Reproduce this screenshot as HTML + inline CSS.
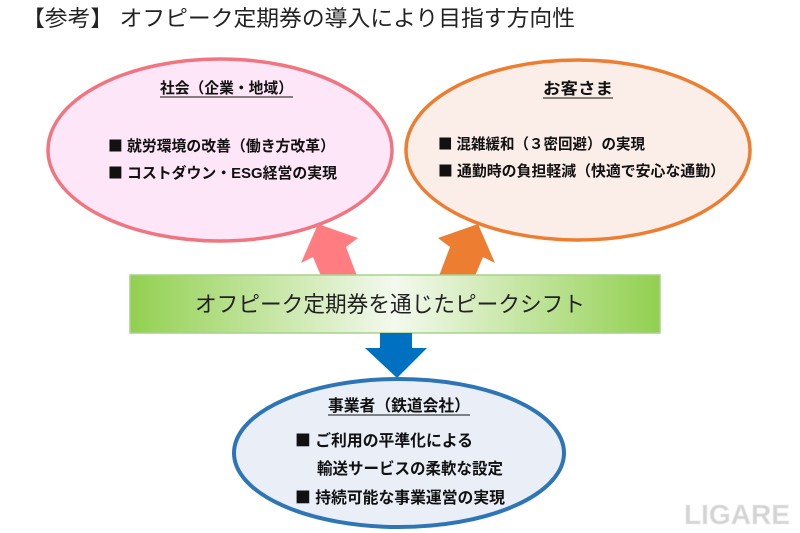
<!DOCTYPE html>
<html>
<head>
<meta charset="utf-8">
<style>
  html,body{margin:0;padding:0;background:#fff;}
  body{width:800px;height:533px;overflow:hidden;}
  svg{display:block;}
  .t{font-family:"Liberation Sans","Noto Sans CJK JP",sans-serif;}
  .j{font-family:"Noto Sans CJK JP",sans-serif;}
</style>
</head>
<body>
<svg width="800" height="533" viewBox="0 0 800 533" xmlns="http://www.w3.org/2000/svg">
  <defs>
    <linearGradient id="g" x1="0" y1="0" x2="1" y2="0">
      <stop offset="0" stop-color="#92d050"/>
      <stop offset="0.5" stop-color="#f3f9ee"/>
      <stop offset="1" stop-color="#92d050"/>
    </linearGradient>
  </defs>

  <!-- Title -->
  <text class="t" x="22" y="26" font-size="22" fill="#222" textLength="553" lengthAdjust="spacingAndGlyphs">【参考】 オフピーク定期券の導入により目指す方向性</text>

  <!-- Left ellipse -->
  <ellipse cx="220" cy="150" rx="172" ry="91" fill="#fde6f7" stroke="#f07580" stroke-width="3.5"/>
  <!-- Right ellipse -->
  <ellipse cx="578" cy="150" rx="172" ry="90" fill="#fbeee8" stroke="#ed7d31" stroke-width="3.5"/>

  <!-- Arrows -->
  <polygon points="318,224 358,238 346,247 357,276 321,276 313,257 301,263" fill="#ff7c80"/>
  <polygon points="478,224 438,238 450,247 439,276 475,276 483,257 495,263" fill="#ed7d31"/>

  <!-- Green box -->
  <rect x="130" y="275" width="530" height="58" fill="url(#g)" stroke="#a9d18e" stroke-width="1.5"/>
  <text class="t" x="195" y="312" font-size="22" fill="#222" textLength="390" lengthAdjust="spacingAndGlyphs">オフピーク定期券を通じたピークシフト</text>

  <!-- Blue arrow -->
  <polygon points="380,333 412,333 412,348 427,348 397,378 365,348 380,348" fill="#0070c0"/>

  <!-- Bottom ellipse -->
  <ellipse cx="399" cy="453" rx="165" ry="74" fill="#e9eef7" stroke="#2e75b6" stroke-width="4"/>

  <!-- Left texts -->
  <text class="t" x="160" y="93" font-size="15" font-weight="700" fill="#111" textLength="133" lengthAdjust="spacingAndGlyphs">社会（企業・地域）</text>
  <line x1="160" y1="97" x2="293" y2="97" stroke="#111" stroke-width="1"/>
  <text class="t" x="108" y="151" font-size="15" font-weight="700" fill="#111" textLength="227" lengthAdjust="spacingAndGlyphs"><tspan class="j">■</tspan> 就労環境の改善（働き方改革）</text>
  <text class="t" x="108" y="178" font-size="15" font-weight="700" fill="#111" textLength="229" lengthAdjust="spacingAndGlyphs"><tspan class="j">■</tspan> コストダウン・ESG経営の実現</text>

  <!-- Right texts -->
  <text class="t" x="543" y="94" font-size="16" font-weight="700" fill="#111" textLength="70" lengthAdjust="spacingAndGlyphs">お客さま</text>
  <line x1="543" y1="98" x2="613" y2="98" stroke="#111" stroke-width="1"/>
  <text class="t" x="438" y="149" font-size="15" font-weight="700" fill="#111" textLength="207" lengthAdjust="spacingAndGlyphs"><tspan class="j">■</tspan> 混雑緩和（３密回避）の実現</text>
  <text class="t" x="438" y="176" font-size="15" font-weight="700" fill="#111" textLength="287" lengthAdjust="spacingAndGlyphs"><tspan class="j">■</tspan> 通勤時の負担軽減（快適で安心な通勤）</text>

  <!-- Bottom texts -->
  <text class="t" x="328" y="411" font-size="16" font-weight="700" fill="#111" textLength="142" lengthAdjust="spacingAndGlyphs">事業者（鉄道会社）</text>
  <line x1="328" y1="415" x2="470" y2="415" stroke="#111" stroke-width="1"/>
  <text class="t" x="295" y="446" font-size="16" font-weight="700" fill="#111" textLength="178" lengthAdjust="spacingAndGlyphs"><tspan class="j">■</tspan> ご利用の平準化による</text>
  <text class="t" x="317" y="474" font-size="16" font-weight="700" fill="#111" textLength="186" lengthAdjust="spacingAndGlyphs">輸送サービスの柔軟な設定</text>
  <text class="t" x="295" y="503" font-size="16" font-weight="700" fill="#111" textLength="210" lengthAdjust="spacingAndGlyphs"><tspan class="j">■</tspan> 持続可能な事業運営の実現</text>

  <!-- Watermark -->
  <text class="t" x="684" y="524" font-size="28" font-weight="700" fill="#d4d4d4" stroke="#eeeeee" stroke-width="0.8" textLength="106" lengthAdjust="spacingAndGlyphs">LIGARE</text>
</svg>
</body>
</html>
